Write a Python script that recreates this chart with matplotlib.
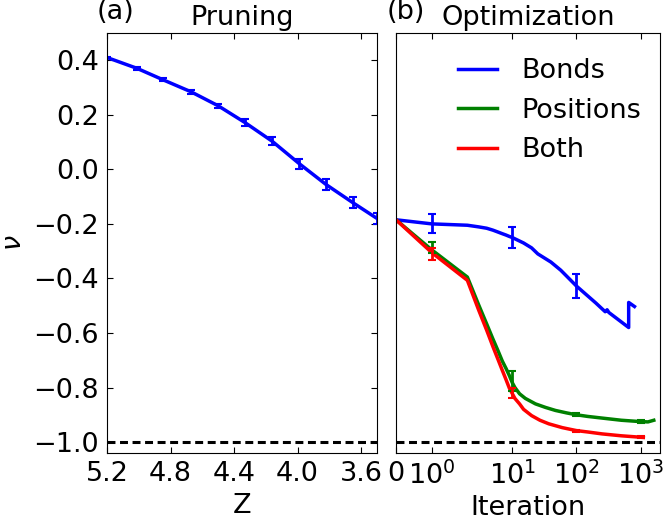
import numpy as np
import matplotlib
matplotlib.use('Agg')
from matplotlib import pyplot as plt
from matplotlib.ticker import NullLocator

fs = 19.5
plt.rcParams['font.size'] = fs
plt.rcParams['mathtext.fontset'] = 'dejavusans'

# (a) pruning: nu vs mean coordination Z
z_prune = [5.2, 5.01, 4.85, 4.67, 4.5, 4.33, 4.16, 3.99, 3.82, 3.65, 3.5]
nu_prune = [0.41, 0.370, 0.329, 0.284, 0.233, 0.171, 0.103, 0.021, -0.056, -0.123, -0.18]
err_prune = [0.003, 0.004, 0.005, 0.006, 0.008, 0.012, 0.015, 0.018, 0.02, 0.02, 0.02]

# (b) optimization: nu vs iteration
it_bonds = [0, 1, 2, 3, 4, 5, 6, 7, 8, 9, 10, 15, 20, 25, 40, 57, 100, 200, 260, 280, 300, 320, 650, 650, 800]
nu_bonds = [-0.185, -0.2, -0.205, -0.211, -0.216, -0.223, -0.23, -0.236, -0.241, -0.246, -0.25,
            -0.27, -0.288, -0.31, -0.34, -0.37, -0.428, -0.49, -0.515, -0.522, -0.515, -0.525,
            -0.58, -0.488, -0.503]

it_pos = [0, 1, 2, 3, 4, 5, 6, 7, 8, 9, 10, 11, 13, 16, 23, 33, 47, 70, 100, 150, 250, 500,
          1000, 1300, 1600]
nu_pos = [-0.185, -0.295, -0.395, -0.497, -0.567, -0.622, -0.665, -0.703, -0.73, -0.756, -0.782,
          -0.80, -0.823, -0.84, -0.86, -0.873, -0.884, -0.893, -0.90, -0.906, -0.912, -0.92,
          -0.925, -0.926, -0.92]

it_both = [0, 1, 2, 3, 4, 5, 6, 7, 8, 9, 10, 11, 13, 15, 20, 27, 37, 60, 100, 150, 250, 500, 1100]
nu_both = [-0.185, -0.305, -0.407, -0.516, -0.59, -0.65, -0.697, -0.737, -0.771, -0.802, -0.822,
           -0.84, -0.86, -0.88, -0.903, -0.92, -0.933, -0.947, -0.958, -0.963, -0.97, -0.977, -0.983]

# error bars (sampled at a few iterations)
eb_bonds_x = [1, 10, 100]
eb_bonds_y = [-0.2, -0.25, -0.428]
eb_bonds_e = [0.035, 0.037, 0.045]
eb_pos_x = [1, 10, 100, 1000]
eb_pos_y = [-0.288, -0.775, -0.90, -0.925]
eb_pos_e = [0.02, 0.037, 0.005, 0.005]
eb_both_x = [1, 10, 100, 1000]
eb_both_y = [-0.31, -0.82, -0.958, -0.982]
eb_both_e = [0.022, 0.02, 0.004, 0.004]

nu_limit = -1.0

fig = plt.figure(figsize=(6.63, 5.29), dpi=100)
ax1 = fig.add_axes([0.1614, 0.1437, 0.4072, 0.794])
ax2 = fig.add_axes([0.5973, 0.1437, 0.3982, 0.794], sharey=ax1)

lw = 2.5
ebkw = dict(fmt='none', elinewidth=2, capsize=3, capthick=1.5)
ax1.plot(z_prune, nu_prune, color='blue', lw=lw)
ax1.errorbar(z_prune, nu_prune, yerr=err_prune, ecolor='blue', **ebkw)
ax1.axhline(nu_limit, color='k', lw=2.2, linestyle=(0, (2.6, 1.5)))
ax1.set_xlim(5.2, 3.5)
ax1.set_ylim(-1.04, 0.5)
ax1.set_xticks([5.2, 4.8, 4.4, 4.0, 3.6])
ax1.set_yticks([0.4, 0.2, 0.0, -0.2, -0.4, -0.6, -0.8, -1.0])
ax1.set_xlabel('Z')
ax1.set_ylabel(r'$\nu$')
ax1.set_title('Pruning', fontsize=fs)
ax1.text(-0.04, 1.02, '(a)', transform=ax1.transAxes, ha='left', va='bottom')
ax1.tick_params(direction='in', length=4, top=True, right=True, pad=6)

ax2.plot(it_bonds, nu_bonds, color='blue', lw=lw, label='Bonds')
ax2.plot(it_pos, nu_pos, color='green', lw=lw, label='Positions')
ax2.plot(it_both, nu_both, color='red', lw=lw, label='Both')
ax2.errorbar(eb_bonds_x, eb_bonds_y, yerr=eb_bonds_e, ecolor='blue', **ebkw)
ax2.errorbar(eb_pos_x, eb_pos_y, yerr=eb_pos_e, ecolor='green', **ebkw)
ax2.errorbar(eb_both_x, eb_both_y, yerr=eb_both_e, ecolor='red', **ebkw)
ax2.axhline(nu_limit, color='k', lw=2.2, linestyle=(0, (2.6, 1.5)))
ax2.set_xscale('symlog', linthresh=2, linscale=1)
ax2.set_xlim(0, 2000)
ax2.set_xticks([0, 1, 10, 100, 1000], ['0', '$10^0$', '$10^1$', '$10^2$', '$10^3$'])
ax2.xaxis.set_minor_locator(NullLocator())
ax2.set_xlabel('Iteration')
ax2.set_title('Optimization', fontsize=fs)
ax2.text(-0.034, 1.02, '(b)', transform=ax2.transAxes, ha='left', va='bottom')
ax2.tick_params(axis='x', direction='in', length=4, top=True, pad=6)
ax2.tick_params(axis='y', left=False, right=False, labelleft=False)
ax2.legend(loc='upper right', bbox_to_anchor=(1.0, 0.985), frameon=False, fontsize=fs,
           handlelength=1.45, handletextpad=0.9, labelspacing=0.5, borderaxespad=0.3)

fig.savefig('out.png', dpi=100)
